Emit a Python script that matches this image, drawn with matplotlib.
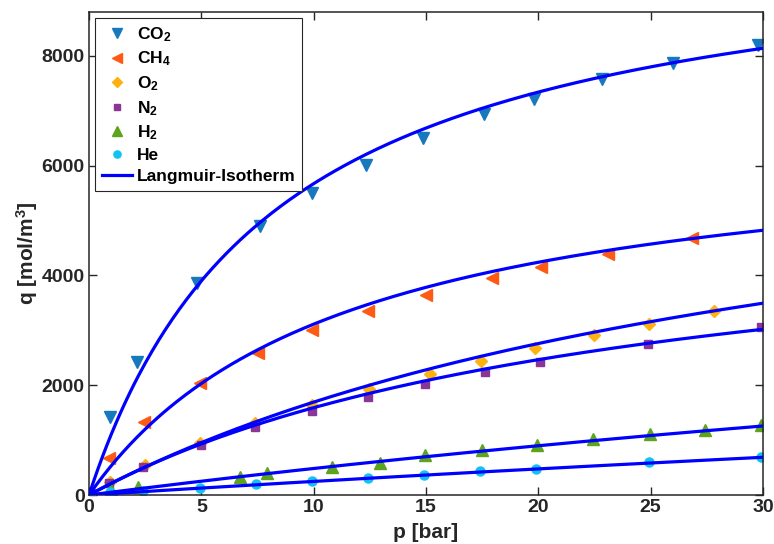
import numpy as np
import matplotlib
matplotlib.use("Agg")
import matplotlib.pyplot as plt

plt.rcParams['font.family'] = ['Liberation Sans', 'DejaVu Sans']
plt.rcParams['font.weight'] = 'bold'
plt.rcParams['mathtext.fontset'] = 'custom'
plt.rcParams['mathtext.rm'] = 'Liberation Sans:bold'
plt.rcParams['mathtext.it'] = 'Liberation Sans:bold'
plt.rcParams['mathtext.bf'] = 'Liberation Sans:bold'
plt.rcParams['mathtext.default'] = 'bf'

# measured points (p in bar, q in mol/m^3)
p_co2 = [0, 0.93, 2.13, 4.8, 7.6, 9.92, 12.31, 14.85, 17.57, 19.8, 22.83, 25.98, 29.76]
q_co2 = [0, 1430, 2420, 3870, 4905, 5500, 6010, 6497, 6934, 7218, 7571, 7863, 8191]

p_ch4 = [0, 0.9, 2.43, 4.95, 7.53, 9.92, 12.43, 14.98, 17.95, 20.13, 23.11, 26.82]
q_ch4 = [0, 668, 1324, 2046, 2592, 3005, 3352, 3649, 3953, 4159, 4390, 4676]

p_o2 = [0, 0.95, 2.49, 4.95, 7.39, 9.91, 12.46, 15.16, 17.45, 19.85, 22.47, 24.92, 27.81]
q_o2 = [0, 235, 555, 953, 1317, 1639, 1931, 2210, 2441, 2678, 2914, 3121, 3346]

p_n2 = [0, 0.9, 2.42, 5.0, 7.4, 9.91, 12.42, 14.94, 17.64, 20.06, 24.89, 29.89]
q_n2 = [0, 213, 504, 917, 1239, 1525, 1785, 2016, 2240, 2428, 2750, 3054]

p_h2 = [0, 0.96, 2.2, 6.72, 7.92, 10.83, 12.95, 14.94, 17.5, 19.94, 22.44, 24.95, 27.4, 29.92]
q_h2 = [0, 91, 145, 334, 395, 504, 577, 723, 820, 916, 1014, 1105, 1184, 1275]

p_he = [0, 0.92, 2.42, 4.93, 7.42, 9.92, 12.42, 14.91, 17.42, 19.89, 24.91, 29.91]
q_he = [0, 49, 75, 128, 192, 257, 310, 364, 432, 479, 596, 692]

# Langmuir parameters: q_max, b
qmax = [10400, 6650, 7470, 5480, 6320, 6075]
b_lang = [0.12, 0.088, 0.0293, 0.0409, 0.00828, 0.00425]

labels = ['CO$_2$', 'CH$_4$', 'O$_2$', 'N$_2$', 'H$_2$', 'He']
markers = ['v', '<', 'D', 's', '^', 'o']
msizes = [9, 9, 6, 6, 9, 6.5]
colors = ['#1878BE', '#FF5A14', '#FFB20F', '#8A3694', '#5CA41C', '#12C2F2']

P = [p_co2, p_ch4, p_o2, p_n2, p_h2, p_he]
Q = [q_co2, q_ch4, q_o2, q_n2, q_h2, q_he]

fig = plt.figure(figsize=(7.74, 5.44), dpi=100)
ax = fig.add_axes([89/774, 49/544, 674/774, 483/544])

for p, q, lab, m, ms, c in zip(P, Q, labels, markers, msizes, colors):
    ax.plot(p, q, linestyle='none', marker=m, markersize=ms, color=c,
            markeredgecolor=c, label=lab, zorder=2)

pp = np.linspace(0, 30, 300)
for i, (qm, b) in enumerate(zip(qmax, b_lang)):
    ax.plot(pp, qm*b*pp/(1 + b*pp), color='#0000FF', lw=2.3, zorder=3,
            label='Langmuir-Isotherm' if i == 0 else None)

ax.set_xlim(0, 30)
ax.set_ylim(0, 8800)
ax.set_xticks([0, 5, 10, 15, 20, 25, 30])
ax.set_yticks([0, 2000, 4000, 6000, 8000])
ax.tick_params(direction='in', length=6, width=1, top=True, right=True,
               labelsize=14, pad=3, colors='#262626')
for lbl in ax.get_xticklabels() + ax.get_yticklabels():
    lbl.set_fontweight('bold')
for s in ax.spines.values():
    s.set_linewidth(1.1)
    s.set_color('#262626')

ax.set_xlabel('p [bar]', fontsize=15, fontweight='bold', labelpad=5, color='#262626')
ax.set_ylabel('q [mol/m$^3$]', fontsize=15, fontweight='bold', labelpad=1, color='#262626')

leg = ax.legend(loc='upper left', fancybox=False, framealpha=1,
                edgecolor='#262626', borderpad=0.4, handlelength=1.7,
                handletextpad=0.3, labelspacing=0.34, borderaxespad=0.35,
                markerscale=0.8, prop={'weight': 'bold', 'size': 12.5})
leg.get_frame().set_linewidth(0.8)

fig.savefig('out.png', dpi=100)
